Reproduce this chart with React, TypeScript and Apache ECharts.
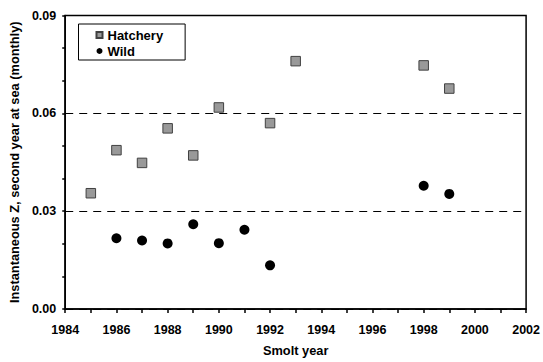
import React, { useEffect, useRef } from "react";
import * as echarts from "echarts";

// Smolt years and instantaneous mortality (Z) in the second year at sea
const hatcheryYears = [1985, 1986, 1987, 1988, 1989, 1990, 1992, 1993, 1998, 1999];
const hatcheryZ = [0.0355, 0.0487, 0.0448, 0.0554, 0.0471, 0.0618, 0.057, 0.076, 0.0747, 0.0676];

const wildYears = [1986, 1987, 1988, 1989, 1990, 1991, 1992, 1998, 1999];
const wildZ = [0.0217, 0.021, 0.0201, 0.026, 0.0202, 0.0243, 0.0134, 0.0378, 0.0353];

const FONT = "'Liberation Sans', Arial, sans-serif";

export default function App() {
  const ref = useRef<HTMLDivElement>(null);

  useEffect(() => {
    if (!ref.current) return;
    const chart = echarts.init(ref.current, undefined, { renderer: "svg" });
    const axisText = { color: "#000", fontFamily: FONT, fontWeight: "bold" as const, fontSize: 12.5 };

    chart.setOption({
      animation: false,
      backgroundColor: "#fff",
      grid: {
        left: 63.5,
        right: 14.5,
        top: 15.5,
        bottom: 50,
        show: true,
        borderColor: "#000",
        borderWidth: 1.5,
        backgroundColor: "transparent",
      },
      legend: {
        orient: "vertical",
        left: 78.5,
        top: 24,
        padding: [4, 22, 2, 17],
        itemWidth: 6,
        itemHeight: 6,
        itemGap: 2,
        borderColor: "#000",
        borderWidth: 1,
        backgroundColor: "#fff",
        textStyle: { ...axisText, fontSize: 13, lineHeight: 14 },
        data: ["Hatchery", "Wild"],
      },
      xAxis: {
        type: "value",
        min: 1984,
        max: 2002,
        interval: 2,
        name: "Smolt year",
        nameLocation: "middle",
        nameGap: 35,
        nameTextStyle: { ...axisText, fontSize: 12.8 },
        axisLine: { show: true, lineStyle: { color: "#000", width: 1.5 } },
        axisTick: { show: true, length: 4, lineStyle: { color: "#000", width: 1.5 } },
        minorTick: { show: true, splitNumber: 2, length: 4, lineStyle: { color: "#000", width: 1.5 } },
        axisLabel: { ...axisText, margin: 14, formatter: (v: number) => String(v) },
        splitLine: { show: false },
      },
      yAxis: {
        type: "value",
        min: 0,
        max: 0.09,
        interval: 0.03,
        name: "Instantaneous Z, second year at sea (monthly)",
        nameLocation: "middle",
        nameGap: 39,
        nameTextStyle: { ...axisText, fontSize: 12.8 },
        axisLine: { show: true, lineStyle: { color: "#000", width: 1.5 } },
        axisTick: { show: true, length: 3, lineStyle: { color: "#000", width: 1.5 } },
        minorTick: { show: true, splitNumber: 3, length: 3, lineStyle: { color: "#000", width: 1.5 } },
        axisLabel: { ...axisText, margin: 9, formatter: (v: number) => v.toFixed(2) },
        splitLine: { show: true, lineStyle: { color: "#000", width: 1, type: [8, 6] } },
      },
      series: [
        {
          name: "Hatchery",
          type: "scatter",
          symbol: "rect",
          symbolSize: 9.5,
          itemStyle: { color: "#999999", borderColor: "#404040", borderWidth: 1, opacity: 1 },
          data: hatcheryYears.map((y, i) => [y, hatcheryZ[i]]),
        },
        {
          name: "Wild",
          type: "scatter",
          symbol: "circle",
          symbolSize: 10,
          itemStyle: { color: "#000", opacity: 1 },
          data: wildYears.map((y, i) => [y, wildZ[i]]),
        },
      ],
    });

    return () => chart.dispose();
  }, []);

  return (
    <div
      ref={ref}
      style={{ position: "fixed", left: 0, top: 0, width: 543, height: 362, background: "#fff" }}
    />
  );
}
